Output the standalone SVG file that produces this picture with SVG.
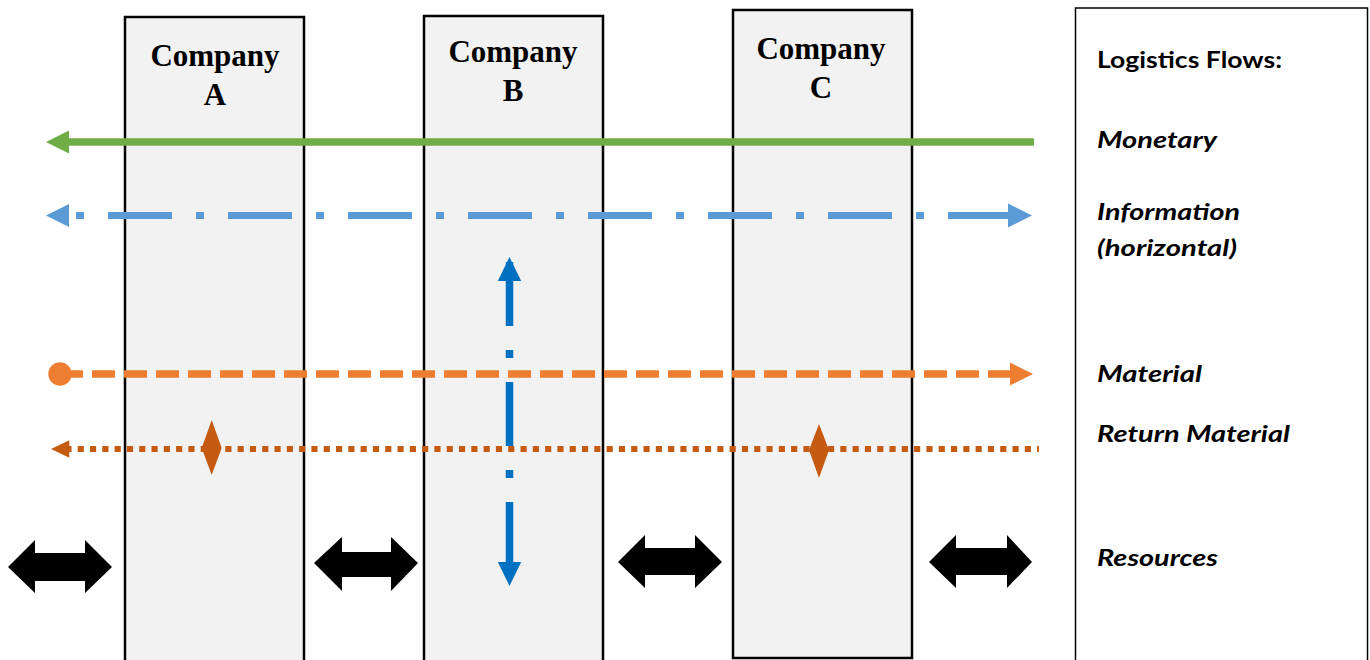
<svg xmlns="http://www.w3.org/2000/svg" width="1370" height="660" viewBox="0 0 1370 660">
<style>
.co{fill:#F2F2F2;stroke:#000;stroke-width:2.5}
.ct{font-family:"Liberation Serif","Times New Roman",serif;font-weight:bold;font-size:31px;fill:#000;text-anchor:middle}
.lg{font-family:Lato,"Liberation Sans",Arial,sans-serif;font-weight:bold;font-size:22px;fill:#000}
.it{font-style:italic}
.dbl{fill:#000}
</style>
<rect width="1370" height="660" fill="#fff"/>
<g id="legend">
<rect x="1075.5" y="8" width="292" height="660" fill="#fff" stroke="#000" stroke-width="1.5"/>
<text class="lg" x="1097" y="68" textLength="185" lengthAdjust="spacingAndGlyphs">Logistics Flows:</text>
<text class="lg it" x="1097" y="148" textLength="120" lengthAdjust="spacingAndGlyphs">Monetary</text>
<text class="lg it" x="1097" y="220" textLength="143" lengthAdjust="spacingAndGlyphs">Information</text>
<text class="lg it" x="1097" y="256" textLength="140" lengthAdjust="spacingAndGlyphs">(horizontal)</text>
<text class="lg it" x="1097" y="382" textLength="105" lengthAdjust="spacingAndGlyphs">Material</text>
<text class="lg it" x="1097" y="442" textLength="193" lengthAdjust="spacingAndGlyphs">Return Material</text>
<text class="lg it" x="1097" y="566" textLength="121" lengthAdjust="spacingAndGlyphs">Resources</text>
</g>
<g id="companyA">
<rect class="co" x="125" y="17" width="179" height="660"/>
<text class="ct" x="215" y="66">Company</text>
<text class="ct" x="215" y="105">A</text>
</g>
<g id="companyB">
<rect class="co" x="424" y="16" width="179" height="660"/>
<text class="ct" x="513" y="62">Company</text>
<text class="ct" x="513" y="101">B</text>
</g>
<g id="companyC">
<rect class="co" x="733" y="10" width="179" height="648"/>
<text class="ct" x="821" y="59">Company</text>
<text class="ct" x="821" y="98">C</text>
</g>
<g id="connectors">
<!-- Monetary -->
<line x1="66" y1="142" x2="1034" y2="142" stroke="#70AD47" stroke-width="7.5"/>
<polygon points="46,142 69,130.5 69,153.5" fill="#70AD47"/>
<!-- Information horizontal -->
<line x1="76" y1="215.5" x2="1010" y2="215.5" stroke="#5B9BD5" stroke-width="7" stroke-dasharray="8 24 64 24"/>
<polygon points="46,215.5 69,204 69,227" fill="#5B9BD5"/>
<polygon points="1032,215.5 1008,203.5 1008,227.5" fill="#5B9BD5"/>
<!-- Information vertical -->
<line x1="509.5" y1="262" x2="509.5" y2="566" stroke="#0070C0" stroke-width="7.5" stroke-dasharray="64 24 8 24"/>
<polygon points="509.5,257 497.8,281 521.2,281" fill="#0070C0"/>
<polygon points="509.5,586 497.8,562 521.2,562" fill="#0070C0"/>
<!-- Material -->
<line x1="60" y1="374" x2="1012" y2="374" stroke="#ED7D31" stroke-width="7.5" stroke-dasharray="23 9"/>
<circle cx="60" cy="374" r="11.7" fill="#ED7D31"/>
<polygon points="1033,374 1010,362.5 1010,385.5" fill="#ED7D31"/>
<!-- Return Material -->
<line x1="65.4" y1="449" x2="1039" y2="449" stroke="#C55A11" stroke-width="6" stroke-dasharray="6.15 6.15"/>
<polygon points="51,449 69.3,440.2 69.3,457.8" fill="#C55A11"/>
<polygon points="211.7,420 221.7,448 211.7,475 201.7,448" fill="#C55A11"/>
<polygon points="819,424 829,450 819,478 809,450" fill="#C55A11"/>
<!-- Resources -->
<polygon class="dbl" points="8,567 35,540 35,553 85,553 85,540 112,567 85,593 85,581 35,581 35,593"/>
<polygon class="dbl" points="314,563 342,537 342,552 391,552 391,537 418,563 391,591 391,577 342,577 342,591"/>
<polygon class="dbl" points="618,562 645,535 645,548 695,548 695,535 722,562 695,588 695,575 645,575 645,588"/>
<polygon class="dbl" points="929,562 956,535 956,548 1007,548 1007,535 1032,562 1007,588 1007,575 956,575 956,588"/>
</g>
</svg>
